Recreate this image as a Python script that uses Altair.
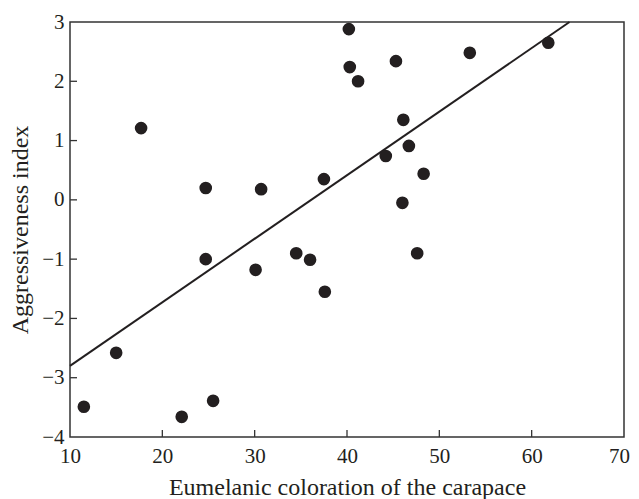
import altair as alt
import pandas as pd

# Scatter data
xs = [11.5, 15.0, 17.7, 24.7, 24.7, 22.1, 25.5, 30.1, 30.7, 34.5, 36.0, 37.5, 37.6,
      40.2, 40.3, 41.2, 44.2, 45.3, 46.1, 46.0, 46.7, 47.6, 48.3, 53.3, 61.8]
ys = [-3.49, -2.58, 1.21, 0.20, -1.00, -3.66, -3.39, -1.18, 0.18, -0.90, -1.01, 0.35, -1.55,
      2.88, 2.24, 2.00, 0.74, 2.34, 1.35, -0.05, 0.91, -0.90, 0.44, 2.48, 2.65]

# Regression line end points
fit_x = [10.0, 64.1]
fit_y = [-2.80, 3.00]

x_ticks = [10, 20, 30, 40, 50, 60, 70]
y_ticks = [-4, -3, -2, -1, 0, 1, 2, 3]

W, H = 554, 415
FONT = "Liberation Serif"
INK = "#231f20"

pts = pd.DataFrame({"x": xs, "y": ys})
fit = pd.DataFrame({"x": fit_x, "y": fit_y})
xt = pd.DataFrame({"x": x_ticks[1:-1]})
yt = pd.DataFrame({"y": y_ticks[1:-1]})

xscale = alt.Scale(domain=[10, 70], nice=False, zero=False)
yscale = alt.Scale(domain=[-4, 3], nice=False, zero=False)

common = dict(ticks=False, domain=False, grid=False, labelFlush=False,
              labelFont=FONT, labelFontSize=21, labelColor=INK,
              titleFont=FONT, titleFontSize=24, titleFontWeight="normal",
              titleColor=INK)
xaxis = alt.Axis(values=x_ticks, title="Eumelanic coloration of the carapace",
                 labelPadding=8, titlePadding=9,
                 labelOffset={"condition": {"test": f"datum.value == {x_ticks[-1]}", "value": -5},
                              "value": 0},
                 **common)
yaxis = alt.Axis(values=y_ticks, title="Aggressiveness index",
                 labelPadding=6, titlePadding=9, **common)

X = alt.X("x:Q", scale=xscale, axis=xaxis)
Y = alt.Y("y:Q", scale=yscale, axis=yaxis)

points = alt.Chart(pts).mark_circle(size=160, color=INK, opacity=1).encode(x=X, y=Y)
line = alt.Chart(fit).mark_line(color=INK, strokeWidth=2).encode(x=X, y=Y)
xticks = alt.Chart(xt).mark_rule(color="#333333", strokeWidth=1.3).encode(
    x=X, y=alt.value(H), y2=alt.value(H - 7),
)
yticks = alt.Chart(yt).mark_rule(color="#333333", strokeWidth=1.3).encode(
    y=Y, x=alt.value(0), x2=alt.value(7),
)

chart = alt.layer(xticks, yticks, line, points).properties(
    width=W, height=H,
    padding={"left": 62, "top": 14, "right": 7, "bottom": 62},
    autosize=alt.AutoSizeParams(type="none"),
).configure_view(stroke="#333333", strokeWidth=1.5)

chart.save("out.html", embed_options={"renderer": "svg", "actions": False})
